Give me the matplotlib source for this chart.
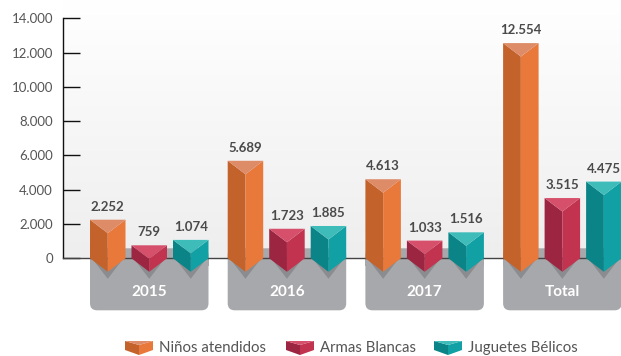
import numpy as np
import matplotlib
matplotlib.use("Agg")
import matplotlib.pyplot as plt
from matplotlib.patches import Polygon, FancyBboxPatch

plt.rcParams['font.family'] = ['Lato', 'DejaVu Sans']

groups = ['2015', '2016', '2017', 'Total']
series = ['Niños atendidos', 'Armas Blancas', 'Juguetes Bélicos']
ninos = [2252, 5689, 4613, 12554]
armas = [759, 1723, 1033, 3515]
juguetes = [1074, 1885, 1516, 4475]
yticks = [0, 2000, 4000, 6000, 8000, 10000, 12000, 14000]

# face colours: (left, right, top)
faces = [('#c4622c', '#e8793a', '#de8b68'),
         ('#9c2642', '#c1334f', '#d6506b'),
         ('#0b8487', '#11a0a3', '#3dbcb9')]

W, H = 621, 356
fig = plt.figure(figsize=(W / 100, H / 100), dpi=100)

# pixel-space layer for background, label boxes, shadows and legend
deco = fig.add_axes([0, 0, 1, 1])
deco.set_xlim(0, W)
deco.set_ylim(H, 0)
deco.axis('off')

x_axis, y_zero, y_top = 63.3, 258.3, 18.3
grad = np.linspace(0, 1, 256)[:, None]
deco.imshow(grad, cmap=matplotlib.colors.LinearSegmentedColormap.from_list(
    'bg', ['#ffffff', '#eeeeef']), extent=(x_axis, W, y_zero, 0),
    aspect='auto', zorder=0)

ax = fig.add_axes([x_axis / W, (H - y_zero) / H,
                   (W - x_axis) / W, (y_zero - y_top) / H])
ax.patch.set_alpha(0)
ax.set_xlim(x_axis, W)
ax.set_ylim(0, 14000)
for s in ('top', 'right'):
    ax.spines[s].set_visible(False)
ax.spines['left'].set_color('#111111')
ax.spines['bottom'].set_color('#444444')
ax.spines['left'].set_linewidth(1)
ax.spines['bottom'].set_linewidth(1)
ax.set_xticks([])
ax.set_yticks(yticks)
ax.set_yticklabels([f"{v:,}".replace(',', '.') for v in yticks])
ax.tick_params(axis='y', direction='in', length=12.3, width=1, color='#111111',
               labelsize=9.5, labelcolor='#555555', pad=7.5)

unit_px = (y_zero - y_top) / 14000
dv_px = 13.5
dv = dv_px / unit_px

g0, g_step, b_step, b_w = 90, 137.7, 41.5, 35.5
values = [ninos, armas, juguetes]

for g, name in enumerate(groups):
    gx = g0 + g * g_step
    box = FancyBboxPatch((gx, y_zero - 10), 2 * b_step + b_w, 62,
                         boxstyle='round,pad=0,rounding_size=7',
                         fc='#a7a8ab', ec='none', zorder=1)
    deco.add_patch(box)
    deco.add_patch(plt.Rectangle((gx, y_zero), 2 * b_step + b_w, 8,
                                 fc='#a7a8ab', ec='none', zorder=1))
    deco.text(gx + b_step + b_w / 2, 291.5, name, color='white',
              fontsize=11, fontweight='bold', ha='center', va='center', zorder=3)
    for s, vals in enumerate(values):
        x0 = gx + s * b_step
        x1 = x0 + b_w
        xm = (x0 + x1) / 2
        deco.add_patch(Polygon([(x0 + 2, y_zero), (xm, y_zero + dv_px + 7),
                                (x1 - 2, y_zero)], fc='#8b8c8f', ec='none',
                               zorder=2))
        v = vals[g]
        left, right, top = faces[s]
        ax.add_patch(Polygon([(x0, v), (xm, v - dv), (xm, -dv), (x0, 0)],
                             fc=left, ec='none', clip_on=False, zorder=3))
        ax.add_patch(Polygon([(xm, v - dv), (x1, v), (x1, 0), (xm, -dv)],
                             fc=right, ec='none', clip_on=False, zorder=3))
        ax.add_patch(Polygon([(x0, v), (x1, v), (xm, v - dv)],
                             fc=top, ec='none', clip_on=False, zorder=4))
        ax.annotate(f"{v:,}".replace(',', '.'), (xm, v), xytext=(0, 5),
                    textcoords='offset points', ha='center', va='bottom',
                    fontsize=9.5, fontweight='bold', color='#4a4a4a')

# legend with small prism icons
leg_x = [125, 286, 434]
for s, name in enumerate(series):
    x0 = leg_x[s]
    x1 = x0 + 28
    xm = (x0 + x1) / 2
    left, right, top = faces[s]
    deco.add_patch(Polygon([(x0, 341), (xm, 345), (xm, 355), (x0, 350)],
                           fc=left, ec='none'))
    deco.add_patch(Polygon([(xm, 345), (x1, 341), (x1, 350), (xm, 355)],
                           fc=right, ec='none'))
    deco.add_patch(Polygon([(x0, 341), (x1, 341), (xm, 345)],
                           fc=top, ec='none'))
    deco.text(x1 + 6, 348, name, fontsize=10.8, color='#555555',
              ha='left', va='center')

fig.savefig('out.png', dpi=100)
